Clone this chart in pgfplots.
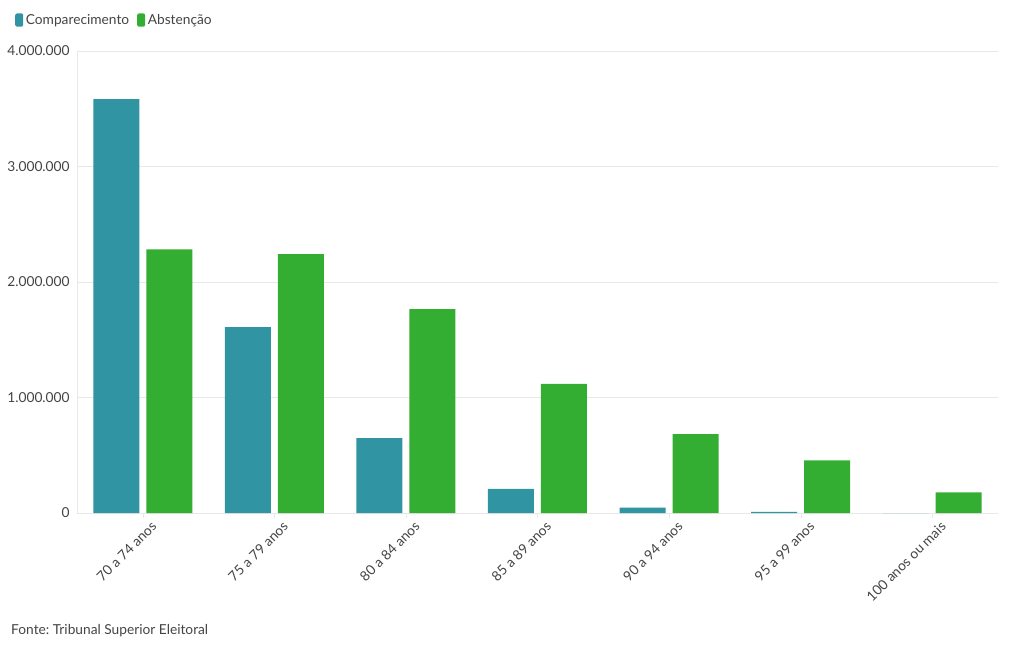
\documentclass[border=0pt]{standalone}
\usepackage{fontspec}
\setmainfont{Lato}
\usepackage{pgfplots}
\pgfplotsset{compat=1.18}
\definecolor{comp}{HTML}{3194A2}
\definecolor{abst}{HTML}{33AE32}
\definecolor{gridc}{HTML}{E8E8E8}
\definecolor{txt}{HTML}{444444}
\frenchspacing
\begin{document}
\begin{tikzpicture}
\useasboundingbox (-57.75pt,-102.75pt) rectangle (707.25pt,384.75pt);
\begin{axis}[
  at={(0,0)}, anchor=south west,
  scale only axis,
  width=690.75pt, height=346.5pt,
  xmin=-0.5, xmax=6.5,
  ymin=0, ymax=4000000,
  xtick={0,...,6},
  xticklabels={70 a 74 anos,75 a 79 anos,80 a 84 anos,85 a 89 anos,90 a 94 anos,95 a 99 anos,100 anos ou mais},
  x tick label style={rotate=45, anchor=north east, inner sep=1pt, yshift=-4pt, xshift=4pt},
  ytick={0,1000000,2000000,3000000,4000000},
  scaled y ticks=false,
  yticklabel style={/pgf/number format/.cd, fixed, 1000 sep={.}, assume math mode=true},
  ticklabel style={font=\fontsize{10.3}{12}\selectfont, text=txt},
  axis lines=left,
  axis line style={draw=gridc, -},
  ymajorgrids, grid style={draw=gridc, line width=0.6pt},
  major tick length=4pt,
  xtick style={draw=gridc},
  ytick style={draw=none},
  ybar=5.25pt,
  bar width=34.5pt,
  legend columns=2,
  legend style={at={(-0.0717,1.067)}, anchor=west, draw=none, fill=none,
    font=\fontsize{10.3}{12}\selectfont, text=txt,
    /tikz/every even column/.append style={column sep=4pt}},
  legend image code/.code={\fill[rounded corners=1.5pt] (0pt,-5pt) rectangle (6pt,5pt);},
  clip=false,
]
\addplot[fill=comp, draw=none] coordinates {
  (0,3584000) (1,1610000) (2,649000) (3,208000) (4,46000) (5,9000) (6,0)
};
\addlegendentry{Comparecimento}
\addplot[fill=abst, draw=none] coordinates {
  (0,2283000) (1,2242000) (2,1766000) (3,1117000) (4,684000) (5,456000) (6,179000)
};
\addlegendentry{Abstenção}
\node[anchor=west, font=\fontsize{10.3}{12}\selectfont, text=txt, inner sep=0pt]
  at (rel axis cs:-0.0717,-0.255) {Fonte: Tribunal Superior Eleitoral};
\end{axis}
\end{tikzpicture}
\end{document}
